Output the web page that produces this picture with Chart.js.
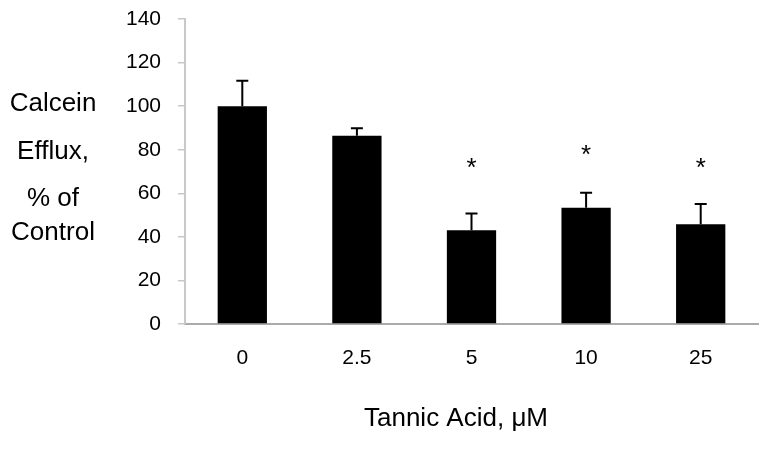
<!DOCTYPE html>
<html>
<head>
<meta charset="utf-8">
<script src="https://cdn.jsdelivr.net/npm/chart.js@4/dist/chart.umd.min.js"></script>
<style>
  html, body { margin: 0; padding: 0; background: #fff; }
  #wrap { width: 770px; height: 454px; }
</style>
</head>
<body>
<div id="wrap"><canvas id="c" width="770" height="454"></canvas></div>
<script>
// ---- data ----
const categories = ['0', '2.5', '5', '10', '25'];
const effluxPct = [100, 86.4, 43.0, 53.4, 45.8];
const sem = [11.6, 3.5, 7.7, 6.9, 9.3];
const asteriskAt = [null, null, 74.6, 80.7, 74.6];
const yTickValues = [0, 20, 40, 60, 80, 100, 120, 140];
const yTitleLines = ['Calcein', 'Efflux,', '% of', 'Control'];
const xTitle = 'Tannic Acid, \u03BCM';

const FONT = "'Liberation Sans', Arial, Helvetica, sans-serif";

const errorBars = {
  id: 'errorBars',
  afterDatasetsDraw(chart) {
    const ctx = chart.ctx;
    const y = chart.scales.y;
    const meta = chart.getDatasetMeta(0);
    ctx.save();
    ctx.strokeStyle = '#000';
    ctx.lineWidth = 2;
    meta.data.forEach((bar, i) => {
      const yb = y.getPixelForValue(effluxPct[i]);
      const yt = y.getPixelForValue(effluxPct[i] + sem[i]);
      ctx.beginPath();
      ctx.moveTo(bar.x, yb);
      ctx.lineTo(bar.x, yt);
      ctx.moveTo(bar.x - 6, yt);
      ctx.lineTo(bar.x + 6, yt);
      ctx.stroke();
      if (asteriskAt[i] != null) {
        ctx.fillStyle = '#000';
        ctx.font = '26px ' + FONT;
        ctx.textAlign = 'center';
        ctx.textBaseline = 'alphabetic';
        ctx.fillText('*', bar.x, y.getPixelForValue(asteriskAt[i]) + 15);
      }
    });
    ctx.restore();
  }
};

const axisTitles = {
  id: 'axisTitles',
  afterDraw(chart) {
    const ctx = chart.ctx;
    const centers = [104, 151.5, 198.5, 232.5];
    ctx.save();
    ctx.fillStyle = '#000';
    ctx.font = '26px ' + FONT;
    ctx.textAlign = 'center';
    ctx.textBaseline = 'middle';
    yTitleLines.forEach((t, i) => ctx.fillText(t, 53, centers[i]));
    ctx.fillText(xTitle, 456, 419);
    ctx.restore();
  }
};

new Chart(document.getElementById('c'), {
  type: 'bar',
  data: {
    labels: categories,
    datasets: [{
      data: effluxPct,
      backgroundColor: '#000',
      borderColor: '#000',
      borderWidth: 0,
      barPercentage: 0.43,
      categoryPercentage: 1.0
    }]
  },
  options: {
    responsive: false,
    animation: false,
    layout: { padding: { top: 19, right: 12, bottom: 0, left: 0 } },
    plugins: {
      legend: { display: false },
      tooltip: { enabled: false },
      title: { display: false }
    },
    scales: {
      x: {
        afterFit(s) { s.height = 130; s.paddingLeft = 0; s.paddingRight = 0; },
        grid: { display: true, drawOnChartArea: false, drawTicks: false, color: 'rgba(0,0,0,0)' },
        border: { display: true, color: '#aaaaaa', width: 2 },
        ticks: { color: '#000', font: { family: FONT, size: 21 }, padding: 22 }
      },
      y: {
        min: 0, max: 140,
        afterFit(s) { s.width = 185; s.paddingTop = 0; s.paddingBottom = 0; },
        afterBuildTicks(s) { s.ticks = yTickValues.map(v => ({ value: v })); },
        grid: { display: true, drawOnChartArea: false, drawTicks: true, tickLength: 7, color: '#c8c8c8', lineWidth: 1.5 },
        border: { display: true, color: '#c8c8c8', width: 2 },
        ticks: { color: '#000', font: { family: FONT, size: 21 }, padding: 17 }
      }
    }
  },
  plugins: [errorBars, axisTitles]
});
</script>
</body>
</html>
